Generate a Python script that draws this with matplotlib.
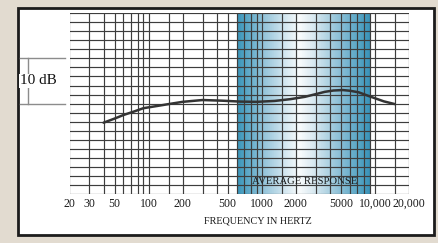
import numpy as np
import matplotlib
matplotlib.use('Agg')
import matplotlib.pyplot as plt
from matplotlib.colors import LinearSegmentedColormap
from matplotlib.patches import Rectangle
from matplotlib.transforms import blended_transform_factory

plt.rcParams['font.family'] = ['Liberation Serif', 'DejaVu Serif']

# response curve (Hz, dB on a 0-40 scale)
freq = [40, 50, 60, 75, 90, 120, 150, 200, 300, 450, 650, 900, 1300, 1800, 2400,
        3000, 3600, 4300, 5200, 6000, 7200, 9000, 12000, 15000]
level = [15.8, 16.7, 17.5, 18.3, 19.0, 19.5, 19.9, 20.4, 20.8, 20.65, 20.45, 20.4, 20.6, 21.0, 21.5,
         22.1, 22.6, 22.9, 23.0, 22.85, 22.5, 21.6, 20.5, 19.9]

grid_freqs = [20, 30, 40, 50, 60, 70, 80, 90, 100, 150, 200, 300, 400, 500,
              600, 700, 800, 900, 1000, 1500, 2000, 3000, 4000, 5000,
              6000, 7000, 8000, 9000, 10000, 15000, 20000]
tick_freqs = [20, 30, 50, 100, 200, 500, 1000, 2000, 5000, 10000, 20000]
tick_labels = ['20', '30', '50', '100', '200', '500', '1000', '2000', '5000', '10,000', '20,000']
band = [600, 9200]
scale_db = [20, 30]

W, H = 439, 243
fig = plt.figure(figsize=(W / 100, H / 100), dpi=100)
fig.patch.set_facecolor('#e2dbd0')

# white card with dark frame
fig.patches.append(Rectangle((18 / W, 1 - 235 / H), 416 / W, 227 / H,
                             transform=fig.transFigure, facecolor='white',
                             edgecolor='#1c1c1c', lw=2.0, zorder=-5))

ax = fig.add_axes([69.5 / W, 1 - 194.3 / H, 339.5 / W, 181.3 / H])
ax.set_zorder(2)
ax.set_xscale('log')
ax.set_facecolor('none')

# shaded "average response" band, horizontal gradient (evenly spaced on the log axis)
cmap = LinearSegmentedColormap.from_list('band', [
    (0.0, '#3893b8'), (0.07, '#58a6c6'), (0.22, '#9cc8dc'), (0.36, '#d3e7f0'),
    (0.47, '#f9fbfc'), (0.6, '#d0e4ed'), (0.76, '#8fc1d7'), (0.92, '#55a4c4'),
    (1.0, '#3892b8')])
xe = np.geomspace(band[0], band[1], 201)
ax.pcolormesh(xe, [0, 40], np.linspace(0, 1, 200).reshape(1, -1), cmap=cmap,
              shading='flat', zorder=0.5, rasterized=True)
ax.set_xlim(20, 20000)
ax.set_ylim(0, 40)

for f in grid_freqs:
    ax.axvline(f, color='#3d3d3d', lw=0.85, zorder=1)
for y in range(0, 41, 2):
    ax.axhline(y, color='#3d3d3d', lw=0.85, zorder=1)

ax.plot(freq, level, color='#333333', lw=1.8, zorder=3, solid_capstyle='round')

for s in ax.spines.values():
    s.set_visible(False)
ax.set_yticks([])
ax.set_xticks(tick_freqs)
ax.set_xticklabels(tick_labels)
ax.xaxis.set_minor_locator(matplotlib.ticker.NullLocator())
ax.tick_params(axis='x', length=0, pad=2.5, labelsize=8.5, labelcolor='#1a1a1a')

ax.text(2400, 2.9, 'AVERAGE RESPONSE', ha='center', va='center',
        fontsize=7.7, color='#1a1a1a', zorder=4)

fig.text(258 / W, 1 - 221 / H, 'FREQUENCY IN HERTZ', ha='center', va='center',
         fontsize=7.3, color='#1a1a1a')

# 10 dB scale bracket
tr = blended_transform_factory(fig.transFigure, ax.transData)
for y in scale_db:
    ax.plot([20.5 / W, 65 / W], [y, y], color='#8c8c8c', lw=1.0, transform=tr, clip_on=False)
ax.plot([27.7 / W, 27.7 / W], scale_db, color='#8c8c8c', lw=1.0, transform=tr, clip_on=False)
ax.text(38.5 / W, np.mean(scale_db), '10 dB', transform=tr, ha='center', va='center',
        fontsize=11, color='#111111',
        bbox=dict(facecolor='white', edgecolor='none', pad=0.5))

fig.savefig('out.png', dpi=100, facecolor=fig.get_facecolor())
